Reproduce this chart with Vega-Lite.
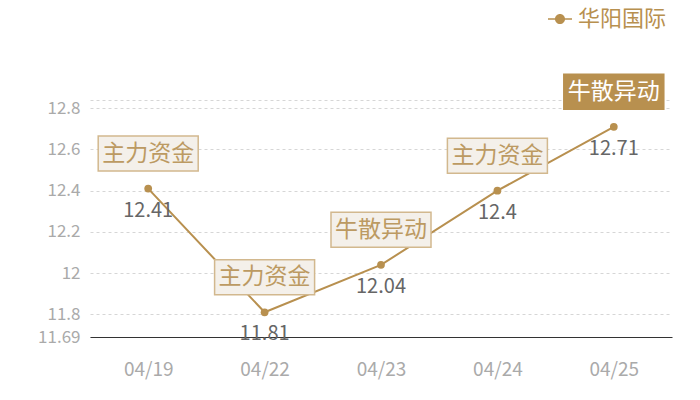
{
  "$schema": "https://vega.github.io/schema/vega-lite/v6.json",
  "width": 582,
  "height": 237,
  "autosize": "none",
  "padding": {"left": 90, "top": 100, "right": 28, "bottom": 63},
  "background": "white",
  "config": {
    "view": {"stroke": null},
    "font": "Noto Sans CJK SC"
  },
  "data": {
    "values": [
      {"date": "04/19", "close": 12.41, "tag": "主力资金", "name": "华阳国际"},
      {"date": "04/22", "close": 11.81, "tag": "主力资金", "name": "华阳国际"},
      {"date": "04/23", "close": 12.04, "tag": "牛散异动", "name": "华阳国际"},
      {"date": "04/24", "close": 12.4, "tag": "主力资金", "name": "华阳国际"},
      {"date": "04/25", "close": 12.71, "tag": "牛散异动", "name": "华阳国际"}
    ]
  },
  "encoding": {
    "x": {
      "field": "date",
      "type": "ordinal",
      "scale": {"type": "point", "padding": 0.5},
      "axis": {
        "title": null,
        "labelAngle": 0,
        "labelColor": "#aaaaaa",
        "labelFontSize": 19,
        "labelPadding": 23,
        "ticks": false,
        "domainColor": "#333333",
        "domainWidth": 1,
        "grid": false
      }
    },
    "y": {
      "field": "close",
      "type": "quantitative",
      "scale": {"domain": [11.69, 12.84], "nice": false, "zero": false},
      "axis": {
        "title": null,
        "values": [11.69, 11.8, 12, 12.2, 12.4, 12.6, 12.8, 12.84],
        "labelExpr": "datum.value == 12.84 ? '' : '' + datum.value",
        "labelColor": "#aaaaaa",
        "labelFontSize": 17,
        "labelPadding": 10,
        "labelOverlap": false,
        "ticks": false,
        "domain": false,
        "gridColor": "#d6d6d6",
        "gridDash": [3, 3]
      }
    }
  },
  "layer": [
    {
      "mark": {"type": "line", "color": "#b8904f", "strokeWidth": 2}
    },
    {
      "mark": {"type": "point", "shape": "circle", "filled": true, "size": 60, "opacity": 1},
      "encoding": {
        "color": {
          "field": "name",
          "type": "nominal",
          "scale": {"range": ["#b8904f"]},
          "legend": {
            "title": null,
            "orient": "none",
            "legendX": 458,
            "legendY": -93,
            "padding": 0,
            "symbolType": "M-1,-0.07L1,-0.07L1,0.07L-1,0.07Z M0.42,0 A0.42,0.42 0 1,1 -0.42,0 A0.42,0.42 0 1,1 0.42,0Z",
            "symbolSize": 576,
            "symbolOpacity": 1,
            "symbolStrokeWidth": 0,
            "labelFontSize": 22,
            "labelColor": "#b8904f",
            "labelOffset": 6
          }
        }
      }
    },
    {
      "mark": {
        "type": "point",
        "shape": "M-1,-0.35L1,-0.35L1,0.35L-1,0.35Z",
        "size": 10000,
        "filled": true,
        "opacity": 1,
        "strokeWidth": 1.5,
        "yOffset": -35
      },
      "encoding": {
        "fill": {
          "condition": {"test": "datum.date == '04/25'", "value": "#b8904f"},
          "value": "#f4f0ea"
        },
        "stroke": {
          "condition": {"test": "datum.date == '04/25'", "value": "#b8904f"},
          "value": "#d2b88e"
        }
      }
    },
    {
      "mark": {
        "type": "text",
        "fontSize": 23,
        "baseline": "middle",
        "align": "center",
        "yOffset": -35
      },
      "encoding": {
        "text": {"field": "tag"},
        "color": {
          "condition": {"test": "datum.date == '04/25'", "value": "#ffffff"},
          "value": "#bc9a62"
        }
      }
    },
    {
      "mark": {
        "type": "text",
        "fontSize": 20,
        "baseline": "middle",
        "align": "center",
        "color": "#666666",
        "yOffset": 22
      },
      "encoding": {
        "text": {"field": "close", "type": "quantitative", "format": "~g"}
      }
    }
  ]
}
